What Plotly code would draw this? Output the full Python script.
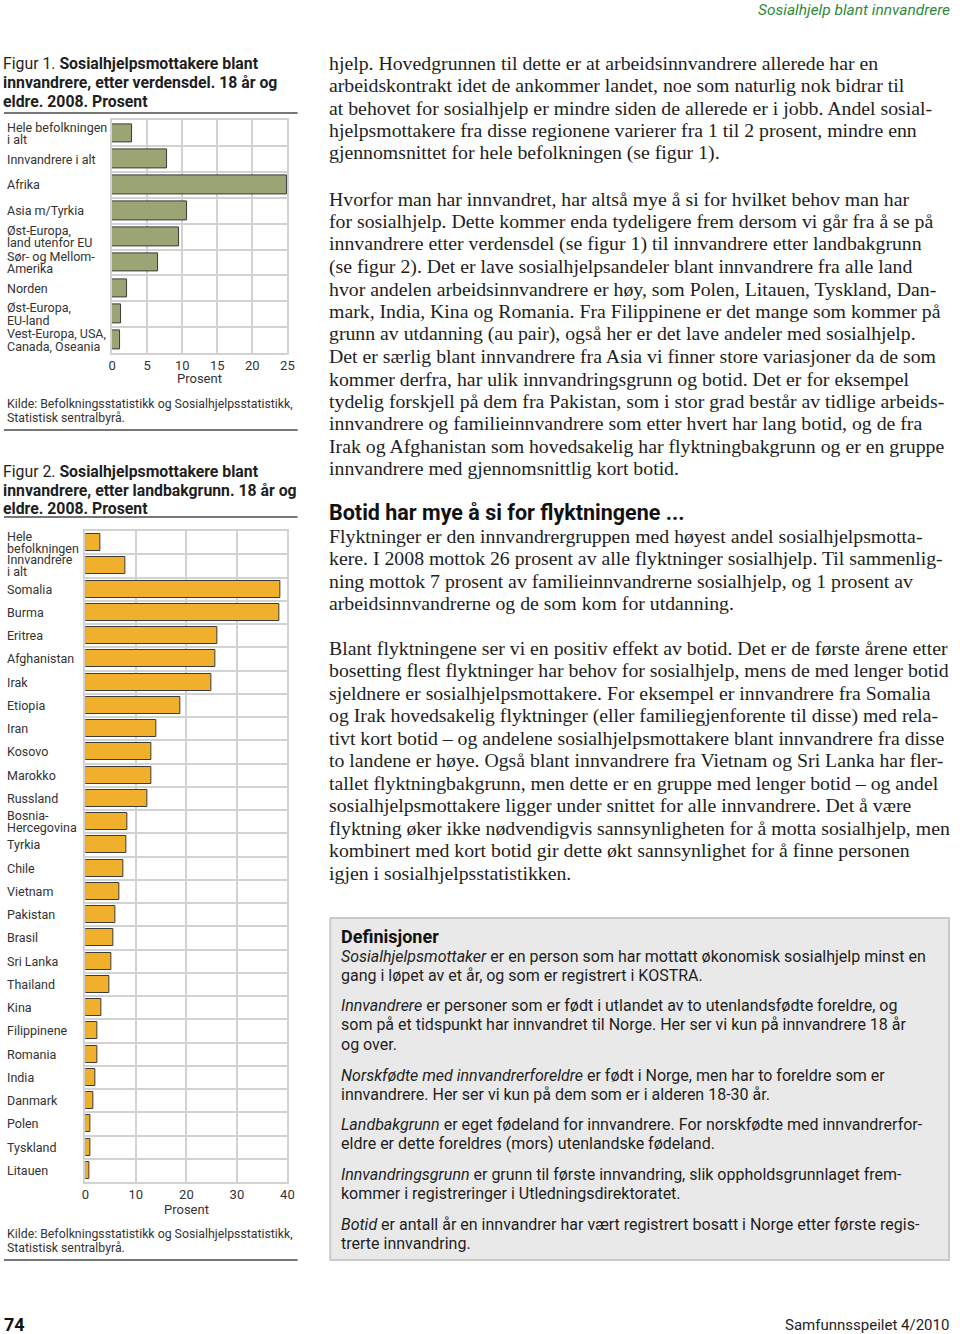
import plotly.graph_objects as go

W, H = 960, 1334

# ---------------- data ----------------
fig1_categories = ["Hele befolkningen\ni alt", "Innvandrere i alt", "Afrika", "Asia m/Tyrkia",
                   "Øst-Europa,\nland utenfor EU", "Sør- og Mellom-\nAmerika", "Norden",
                   "Øst-Europa,\nEU-land", "Vest-Europa, USA,\nCanada, Oseania"]
fig1_values = [2.9, 7.9, 25.0, 10.7, 9.6, 6.6, 2.2, 1.3, 1.2]
fig1_ticks = [0, 5, 10, 15, 20, 25]

fig2_categories = ["Hele\nbefolkningen", "Innvandrere\ni alt", "Somalia", "Burma", "Eritrea",
                   "Afghanistan", "Irak", "Etiopia", "Iran", "Kosovo", "Marokko", "Russland",
                   "Bosnia-\nHercegovina", "Tyrkia", "Chile", "Vietnam", "Pakistan", "Brasil",
                   "Sri Lanka", "Thailand", "Kina", "Filippinene", "Romania", "India", "Danmark",
                   "Polen", "Tyskland", "Litauen"]
fig2_values = [2.9, 7.9, 38.6, 38.4, 26.2, 25.7, 24.9, 18.9, 14.0, 13.1, 13.1, 12.3, 8.3, 8.1,
               7.5, 6.7, 5.9, 5.5, 5.1, 4.7, 3.1, 2.4, 2.3, 1.9, 1.6, 1.0, 1.0, 0.8]
fig2_ticks = [0, 10, 20, 30, 40]

header_text = "Sosialhjelp blant innvandrere"
fig1_title = ["Figur 1. <b>Sosialhjelpsmottakere blant</b>",
              "<b>innvandrere, etter verdensdel. 18 år og</b>",
              "<b>eldre. 2008. Prosent</b>"]
fig2_title = ["Figur 2. <b>Sosialhjelpsmottakere blant</b>",
              "<b>innvandrere, etter landbakgrunn. 18 år og</b>",
              "<b>eldre. 2008. Prosent</b>"]
source_lines = ["Kilde: Befolkningsstatistikk og Sosialhjelpsstatistikk,",
                "Statistisk sentralbyrå."]
axis_title = "Prosent"

para1 = ["hjelp. Hovedgrunnen til dette er at arbeidsinnvandrere allerede har en",
         "arbeidskontrakt idet de ankommer landet, noe som naturlig nok bidrar til",
         "at behovet for sosialhjelp er mindre siden de allerede er i jobb. Andel sosial-",
         "hjelpsmottakere fra disse regionene varierer fra 1 til 2 prosent, mindre enn",
         "gjennomsnittet for hele befolkningen (se figur 1)."]
para2 = ["Hvorfor man har innvandret, har altså mye å si for hvilket behov man har",
         "for sosialhjelp. Dette kommer enda tydeligere frem dersom vi går fra å se på",
         "innvandrere etter verdensdel (se figur 1) til innvandrere etter landbakgrunn",
         "(se figur 2). Det er lave sosialhjelpsandeler blant innvandrere fra alle land",
         "hvor andelen arbeidsinnvandrere er høy, som Polen, Litauen, Tyskland, Dan-",
         "mark, India, Kina og Romania. Fra Filippinene er det mange som kommer på",
         "grunn av utdanning (au pair), også her er det lave andeler med sosialhjelp.",
         "Det er særlig blant innvandrere fra Asia vi finner store variasjoner da de som",
         "kommer derfra, har ulik innvandringsgrunn og botid. Det er for eksempel",
         "tydelig forskjell på dem fra Pakistan, som i stor grad består av tidlige arbeids-",
         "innvandrere og familieinnvandrere som etter hvert har lang botid, og de fra",
         "Irak og Afghanistan som hovedsakelig har flyktningbakgrunn og er en gruppe",
         "innvandrere med gjennomsnittlig kort botid."]
heading = "Botid har mye å si for flyktningene ..."
para3 = ["Flyktninger er den innvandrergruppen med høyest andel sosialhjelpsmotta-",
         "kere. I 2008 mottok 26 prosent av alle flyktninger sosialhjelp. Til sammenlig-",
         "ning mottok 7 prosent av familieinnvandrerne sosialhjelp, og 1 prosent av",
         "arbeidsinnvandrerne og de som kom for utdanning."]
para4 = ["Blant flyktningene ser vi en positiv effekt av botid. Det er de første årene etter",
         "bosetting flest flyktninger har behov for sosialhjelp, mens de med lenger botid",
         "sjeldnere er sosialhjelpsmottakere. For eksempel er innvandrere fra Somalia",
         "og Irak hovedsakelig flyktninger (eller familiegjenforente til disse) med rela-",
         "tivt kort botid – og andelene sosialhjelpsmottakere blant innvandrere fra disse",
         "to landene er høye. Også blant innvandrere fra Vietnam og Sri Lanka har fler-",
         "tallet flyktningbakgrunn, men dette er en gruppe med lenger botid – og andel",
         "sosialhjelpsmottakere ligger under snittet for alle innvandrere. Det å være",
         "flyktning øker ikke nødvendigvis sannsynligheten for å motta sosialhjelp, men",
         "kombinert med kort botid gir dette økt sannsynlighet for å finne personen",
         "igjen i sosialhjelpsstatistikken."]
def_title = "Definisjoner"
def_paras = [
    ["<i>Sosialhjelpsmottaker</i> er en person som har mottatt økonomisk sosialhjelp minst en",
     "gang i løpet av et år, og som er registrert i KOSTRA."],
    ["<i>Innvandrere</i> er personer som er født i utlandet av to utenlandsfødte foreldre, og",
     "som på et tidspunkt har innvandret til Norge. Her ser vi kun på innvandrere 18 år",
     "og over."],
    ["<i>Norskfødte med innvandrerforeldre</i> er født i Norge, men har to foreldre som er",
     "innvandrere. Her ser vi kun på dem som er i alderen 18-30 år."],
    ["<i>Landbakgrunn</i> er eget fødeland for innvandrere. For norskfødte med innvandrerfor-",
     "eldre er dette foreldres (mors) utenlandske fødeland."],
    ["<i>Innvandringsgrunn</i> er grunn til første innvandring, slik oppholdsgrunnlaget frem-",
     "kommer i registreringer i Utledningsdirektoratet."],
    ["<i>Botid</i> er antall år en innvandrer har vært registrert bosatt i Norge etter første regis-",
     "trerte innvandring."],
]
footer_left = "74"
footer_right = "Samfunnsspeilet 4/2010"

# ---------------- styling ----------------
SANS = "Roboto, 'Open Sans', sans-serif"
SERIF = "'Liberation Serif', 'DejaVu Serif', serif"
GRID = "#d2d2d2"
DARK = "#1e1e1e"
LABEL = "#333333"
GREEN_BAR = "#9ba473"
ORANGE_BAR = "#f0b02c"
RULE = "#4a4a4a"


def X(px):
    return px / W


def Y(py):
    return 1 - py / H


annotations = []
shapes = []


def text_line(px, py, txt, size, family=SANS, color=DARK, anchor="left"):
    annotations.append(dict(x=X(px), y=Y(py), xref="paper", yref="paper", xanchor=anchor,
                            yanchor="middle", text=txt, showarrow=False,
                            borderpad=0, borderwidth=0,
                            font=dict(family=family, size=size, color=color)))


def rule(x0, x1, py, color=RULE, width=1.5):
    shapes.append(dict(type="line", xref="paper", yref="paper", x0=X(x0), x1=X(x1),
                       y0=Y(py), y1=Y(py), line=dict(color=color, width=width)))


fig = go.Figure()

# ---------------- Figure 1 ----------------
n1 = len(fig1_categories)
fig.add_trace(go.Bar(x=fig1_values, y=list(range(n1)), orientation="h", width=0.72,
                     marker=dict(color=GREEN_BAR, line=dict(color="#3a3a3a", width=1)),
                     xaxis="x", yaxis="y", hoverinfo="x"))
# ---------------- Figure 2 ----------------
n2 = len(fig2_categories)
fig.add_trace(go.Bar(x=fig2_values, y=list(range(n2)), orientation="h", width=0.73,
                     marker=dict(color=ORANGE_BAR, line=dict(color="#3a3a3a", width=1)),
                     xaxis="x2", yaxis="y2", hoverinfo="x"))


def xaxis_cfg(domain, rng, ticks, anchor):
    return dict(domain=domain, range=rng, anchor=anchor, tickmode="array", tickvals=ticks,
                showgrid=True, gridcolor=GRID, gridwidth=1.5, zeroline=False,
                showline=True, linecolor=GRID, linewidth=1.5, mirror=True, ticks="",
                tickfont=dict(family=SANS, size=13, color=LABEL),
                fixedrange=True)


def yaxis_cfg(domain, n, anchor):
    return dict(domain=domain, range=[n - 0.5, -0.5], anchor=anchor, showgrid=False,
                showticklabels=False, ticks="", zeroline=False,
                showline=True, linecolor=GRID, linewidth=1.5, mirror=True,
                minor=dict(tickmode="array", tickvals=[i + 0.5 for i in range(n - 1)],
                           showgrid=True, gridcolor=GRID, gridwidth=1.5, ticks=""),
                fixedrange=True)


def category_labels(cats, yref, spacing):
    for i, c in enumerate(cats):
        lines = c.split("\n")
        k = len(lines)
        for j, ln in enumerate(lines):
            shift = ((k - 1) / 2 - j) * spacing
            annotations.append(dict(x=X(3), y=i, xref="paper", yref=yref, xanchor="left",
                                    yanchor="middle", yshift=shift, text=ln, showarrow=False,
                                    borderpad=0, borderwidth=0,
                                    font=dict(family=SANS, size=12.5, color=LABEL)))


category_labels(fig1_categories, "y", 12.5)
category_labels(fig2_categories, "y2", 12)

FIG1_X = [109.3, 286.7]
FIG2_X = [82.3, 286.7]

# axis titles
text_line((FIG1_X[0] + FIG1_X[1]) / 2, 378, axis_title, 13, color=LABEL, anchor="center")
text_line((FIG2_X[0] + FIG2_X[1]) / 2, 1209, axis_title, 13, color=LABEL, anchor="center")

# ---------------- page text ----------------
text_line(957, 10, "<i>" + header_text + "</i>", 15.5, color="#2f8a3c", anchor="right")

for k, t in enumerate(fig1_title):
    text_line(-1, 63 + k * 19.3, t, 15.8, color=DARK)
rule(0, 297, 113)
for k, t in enumerate(source_lines):
    text_line(3, 404 + k * 14, t, 12.3, color=LABEL)
rule(0, 297, 430)

for k, t in enumerate(fig2_title):
    text_line(-1, 471 + k * 19, t, 15.8, color=DARK)
rule(0, 297, 517)
for k, t in enumerate(source_lines):
    text_line(3, 1234 + k * 14, t, 12.3, color=LABEL)
rule(0, 297, 1260)


def paragraph(lines, y0, step=22.45):
    for k, t in enumerate(lines):
        text_line(329, y0 + k * step, t, 19.8, family=SERIF, color=DARK)


paragraph(para1, 63)
paragraph(para2, 199)
text_line(329, 513, "<b>" + heading + "</b>", 21.5, color="#111111")
paragraph(para3, 536)
paragraph(para4, 648)

# definitions box
shapes.append(dict(type="rect", xref="paper", yref="paper", x0=X(330), x1=X(956),
                   y0=Y(1260), y1=Y(918), fillcolor="#e9e9e9",
                   line=dict(color="#c9c9c9", width=2), layer="below"))
text_line(341, 936, "<b>" + def_title + "</b>", 18, color="#111111")
def_starts = [956, 1005, 1075, 1124, 1174, 1224]
for start, lines in zip(def_starts, def_paras):
    for k, t in enumerate(lines):
        text_line(341, start + k * 19.8, t, 16, color=DARK)

# footer
text_line(0, 1324, "<b>" + footer_left + "</b>", 18, color="#111111")
text_line(956, 1325, footer_right, 15, color=DARK, anchor="right")

fig.update_layout(
    width=W, height=H, margin=dict(l=0, r=0, t=0, b=0),
    paper_bgcolor="white", plot_bgcolor="white", showlegend=False, bargap=0,
    xaxis=xaxis_cfg([X(FIG1_X[0]), X(FIG1_X[1])], [0, 25], fig1_ticks, "y"),
    yaxis=yaxis_cfg([Y(352.9), Y(120.4)], n1, "x"),
    xaxis2=xaxis_cfg([X(FIG2_X[0]), X(FIG2_X[1])], [0, 40], fig2_ticks, "y2"),
    yaxis2=yaxis_cfg([Y(1182), Y(531)], n2, "x2"),
    annotations=annotations, shapes=shapes,
)

fig.write_html("out.html", config={"displayModeBar": False},
               post_script="document.body.style.margin='0';document.body.style.overflow='hidden';"
                           "document.documentElement.style.overflow='hidden';")
